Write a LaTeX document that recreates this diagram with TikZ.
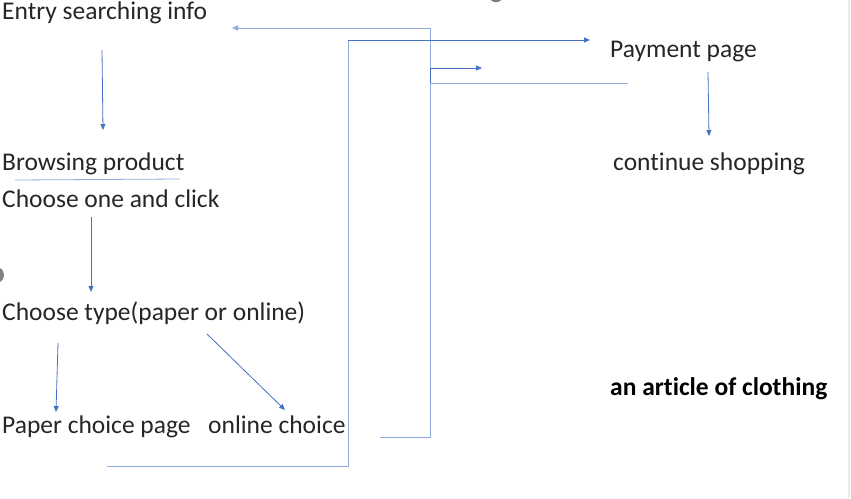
\documentclass[tikz,border=0pt]{standalone}
\usepackage{fontspec}
\setmainfont{Carlito}[Ligatures={NoCommon}]
\usetikzlibrary{arrows.meta}
\begin{document}
\begin{tikzpicture}[x=1pt, y=-1pt]
            \useasboundingbox (0,0) rectangle (851,498);
            \definecolor{Acolor}{RGB}{68, 114, 196}
            \definecolor{Lcolor}{RGB}{143, 170, 220}
            \definecolor{Tcolor}{RGB}{38, 38, 38}
            \def\fsize{\fontsize{25.5}{28}\selectfont}
            \tikzset{
                lbl/.style={anchor=base west, inner sep=0pt, text=Tcolor, font=\fsize},
                arr/.style={draw=Acolor, line width=0.8pt, -{Triangle[length=6pt, width=5pt]}},
                wire/.style={draw=Lcolor, line width=1pt}
            }
            % texts
            \node[lbl] (entry) at (2, 19) {Entry searching info};
            \node[lbl] (pay) at (610, 57) {Payment page};
            \node[lbl] (cont) at (613, 170) {continue shopping};
            \node[lbl] (browse) at (2, 170) {Browsing product};
            \node[lbl] (click) at (2, 207) {Choose one and click};
            \node[lbl] (type) at (2, 320) {Choose type(paper or online)};
            \node[lbl] (paper) at (2, 433) {Paper choice page};
            \node[lbl] (online) at (208, 433) {online choice};
            \node[lbl, font=\fsize\bfseries, text=black] (cloth) at (610, 395) {an article of clothing};
            % free ends of the connectors
            \coordinate (e1) at (380, 437);
            \coordinate (e2) at (107, 466);
            \coordinate (e3) at (628, 83);
            % long connectors
            \draw[wire, -{Triangle[length=6pt, width=5pt]}] (e1) -| (430, 28) -- (232, 28);
            \draw[wire] (e2) -| (348, 40);
            \draw[arr] (348, 40) -- (590, 40);
            \draw[wire] (e3) -- (430, 83);
            \draw[arr] (430, 83) |- (482, 68);
            % short arrows
            \draw[arr] (102, 50) -- (103, 130);
            \draw[wire, line width=0.8pt] (15, 180) -- (180, 179);
            \draw[arr] (91, 217) -- (91, 292);
            \draw[arr] (58, 343) -- (56, 412);
            \draw[arr] (207, 334) -- (285, 410);
            \draw[arr] (708, 72) -- (709, 136);
            % cut-off marks at the edges
            \draw[gray, line width=2.5pt] (496, -5) circle (6);
            \fill[gray] (-4, 275) circle (8);
            \draw[black!8, line width=1.5pt] (849, 0) -- (849, 498);
        \end{tikzpicture}
\end{document}
